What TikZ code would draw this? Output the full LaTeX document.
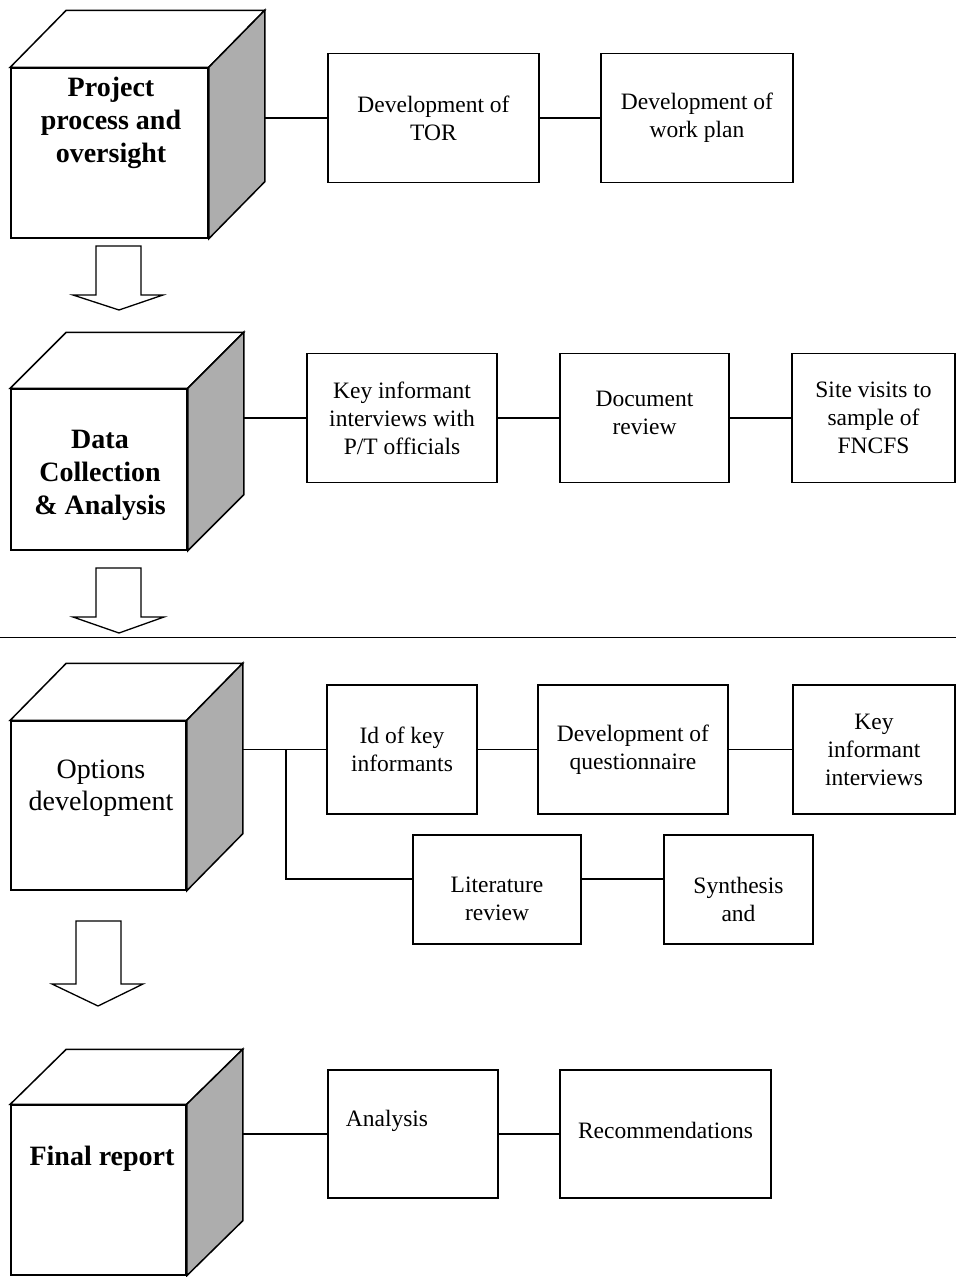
\documentclass[tikz,border=0pt]{standalone}
\usepackage{fontspec}
\setmainfont{Liberation Serif}
\usetikzlibrary{calc}
\definecolor{sidefill}{gray}{0.68}
\begin{document}
\begin{tikzpicture}[x=1pt,y=-1pt,
  cubeline/.style={line width=1.5pt, line join=miter},
  front/.style={draw, line width=1.5pt, inner sep=0pt, fill=white},
  cubetxt/.style={align=center, inner sep=0pt, font=\bfseries\fontsize{28}{33}\selectfont},
  cubetxtr/.style={align=center, inner sep=0pt, font=\fontsize{28}{32}\selectfont},
  box/.style={draw, line width=1.4pt, minimum width=#1, minimum height=129pt, inner sep=0pt, align=center, font=\fontsize{23.5}{28}\selectfont},
  btxt/.style={align=center, inner sep=0pt, font=\fontsize{23.5}{28}\selectfont},
  conn/.style={line width=1.3pt},
  bigarrow/.style={draw, line width=1.3pt, fill=white, line join=miter}
]
\useasboundingbox (0,0) rectangle (956,1277);

% ---------- cube 1 ----------
\node[front, minimum width=197pt, minimum height=170pt] (c1) at (109.5,153) {};
\draw[cubeline, fill=white] (c1.north west) -- ++(56,-57) -- ($(c1.north east)+(56,-57)$) -- (c1.north east) -- cycle;
\draw[cubeline, fill=sidefill] (c1.north east) -- ++(56,-57) -- ($(c1.south east)+(56,-57)$) -- (c1.south east) -- cycle;
\node[cubetxt] (t1) at (111,123) {Project\\process and\\oversight};
\coordinate (s1) at (264,118);

% ---------- cube 2 ----------
\node[front, minimum width=176pt, minimum height=161pt] (c2) at (99,469.5) {};
\draw[cubeline, fill=white] (c2.north west) -- ++(56,-56) -- ($(c2.north east)+(56,-56)$) -- (c2.north east) -- cycle;
\draw[cubeline, fill=sidefill] (c2.north east) -- ++(56,-56) -- ($(c2.south east)+(56,-56)$) -- (c2.south east) -- cycle;
\node[cubetxt] (t2) at (100,475) {Data\\Collection\\\& Analysis};
\coordinate (s2) at (243,418);

% ---------- cube 3 ----------
\node[front, minimum width=175pt, minimum height=169pt] (c3) at (98.5,805.5) {};
\draw[cubeline, fill=white] (c3.north west) -- ++(56,-57) -- ($(c3.north east)+(56,-57)$) -- (c3.north east) -- cycle;
\draw[cubeline, fill=sidefill] (c3.north east) -- ++(56,-57) -- ($(c3.south east)+(56,-57)$) -- (c3.south east) -- cycle;
\node[cubetxtr] (t3) at (101,788) {Options\\development};
\coordinate (s3) at (243,749.5);
\coordinate (j3) at (286,749.5);

% ---------- cube 4 ----------
\node[front, minimum width=175pt, minimum height=170pt] (c4) at (98.5,1190) {};
\draw[cubeline, fill=white] (c4.north west) -- ++(56,-55) -- ($(c4.north east)+(56,-55)$) -- (c4.north east) -- cycle;
\draw[cubeline, fill=sidefill] (c4.north east) -- ++(56,-55) -- ($(c4.south east)+(56,-55)$) -- (c4.south east) -- cycle;
\node[cubetxt] (t4) at (102,1159) {Final report};
\coordinate (s4) at (242,1134);

% ---------- big arrows ----------
\draw[bigarrow] (96,246) -- (141,246) -- (141,295) -- (163,295) -- (119,310) -- (73,295) -- (96,295) -- cycle;
\draw[bigarrow] (96,568) -- (141,568) -- (141,617) -- (164,617) -- (119,633) -- (73,617) -- (96,617) -- cycle;
\draw[bigarrow] (76,921) -- (121,921) -- (121,984) -- (143,984) -- (98,1006) -- (52,984) -- (76,984) -- cycle;

% ---------- separator ----------
\draw[line width=0.9pt] (0,637) -- (956,637);

% ---------- row 1 ----------
\node[box=211pt] (b11) at (433.5,118) {Development of\\TOR};
\node[box=192pt] (b12) at (697,118) {Development of\\work plan};
\draw[conn] (s1) -- (b11);
\draw[conn] (b11) -- (b12);

% ---------- row 2 ----------
\node[box=190pt] (b21) at (402,418) {Key informant\\interviews with\\P/T officials};
\node[box=169pt] (b22) at (644.5,418) {};
\node[btxt] at (644.5,413) {Document\\review};
\node[box=163pt] (b23) at (873.5,418) {Site visits to\\sample of\\FNCFS};
\draw[conn] (s2) -- (b21);
\draw[conn] (b21) -- (b22);
\draw[conn] (b22) -- (b23);

% ---------- row 3 ----------
\node[box=150pt] (b31) at (402,749.5) {Id of key\\informants};
\node[box=190pt] (b32) at (633,749.5) {Development of\\questionnaire};
\node[box=162pt] (b33) at (874,749.5) {Key\\informant\\interviews};
\draw[conn] (s3) -- (b31);
\draw[conn] (b31) -- (b32);
\draw[conn] (b32) -- (b33);

\node[box=168pt, minimum height=109pt] (b41) at (497,889.5) {};
\node[box=149pt, minimum height=109pt] (b42) at (738.5,889.5) {};
\node[btxt] at (497,899) {Literature\\review};
\node[btxt] at (738.5,899) {Synthesis\\and};
\draw[conn] (j3) |- ([yshift=10.5pt]b41.west);
\draw[conn] ([yshift=10.5pt]b41.east) -- ([yshift=10.5pt]b42.west);

% ---------- row 4 ----------
\node[box=170pt, minimum height=128pt] (b51) at (413,1134) {};
\node[btxt] at (387,1121) {Analysis};
\node[box=211pt, minimum height=128pt] (b52) at (665.5,1134) {\raisebox{7pt}{Recommendations}};
\draw[conn] (s4) -- (b51);
\draw[conn] (b51) -- (b52);
\end{tikzpicture}
\end{document}
